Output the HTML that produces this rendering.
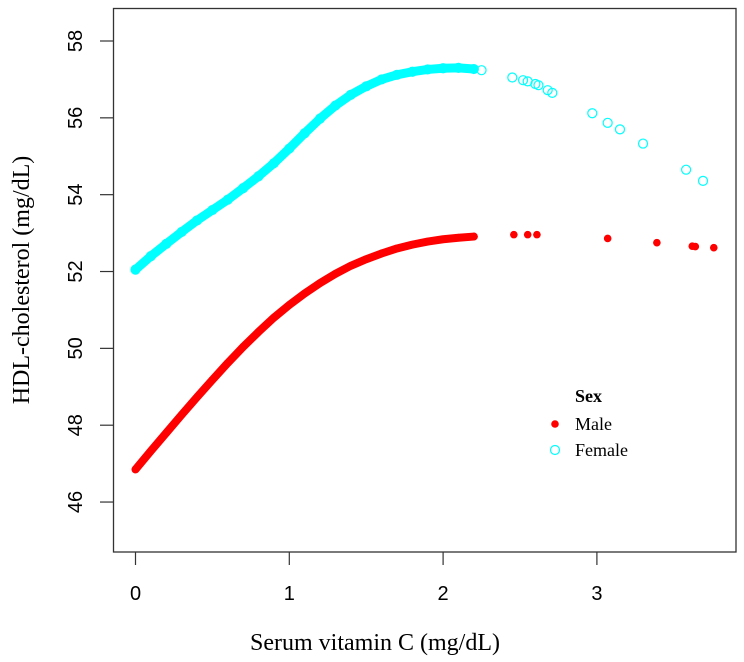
<!DOCTYPE html>
<html><head><meta charset="utf-8"><style>
html,body{margin:0;padding:0;background:#fff;}
svg{display:block;}
</style></head><body>
<svg id="chart" width="744" height="662" viewBox="0 0 744 662" xmlns="http://www.w3.org/2000/svg">
<rect x="0" y="0" width="744" height="662" fill="#fff"/>
<rect x="113.5" y="8.5" width="622.5" height="543.5" fill="none" stroke="#333" stroke-width="1.3"/>
<g id="xaxis"></g>
<g id="yaxis"></g>
<g id="female"></g>
<g id="male"></g>
<text x="375" y="650" text-anchor="middle" font-family="Liberation Serif, serif" font-size="24">Serum vitamin C (mg/dL)</text>
<text transform="translate(29,280) rotate(-90)" text-anchor="middle" font-family="Liberation Serif, serif" font-size="24">HDL-cholesterol (mg/dL)</text>
<g font-family="Liberation Serif, serif" font-size="18">
<text x="575" y="402" font-weight="bold">Sex</text>
<circle cx="555" cy="424" r="3.8" fill="#ff0000"/>
<text x="575" y="430">Male</text>
<circle cx="555" cy="450" r="4.5" fill="none" stroke="#00ffff" stroke-width="1.2"/>
<text x="575" y="456">Female</text>
</g>
</svg>
<script>
const xTicks = [0, 1, 2, 3];
const yTicks = [46, 48, 50, 52, 54, 56, 58];
const maleX = [0,0.1,0.2,0.3,0.4,0.5,0.6,0.7,0.8,0.9,1.0,1.1,1.2,1.3,1.4,1.5,1.6,1.7,1.8,1.9,2.0,2.1,2.2];
const maleY = [46.85,47.33,47.8,48.27,48.73,49.18,49.62,50.04,50.43,50.8,51.13,51.43,51.7,51.94,52.15,52.32,52.47,52.6,52.7,52.78,52.84,52.88,52.91];
const maleSparseX = [2.46,2.55,2.61,3.07,3.39,3.62,3.64,3.76];
const maleSparseY = [52.96,52.96,52.96,52.86,52.75,52.66,52.65,52.62];
const femaleX = [0,0.1,0.2,0.3,0.4,0.5,0.6,0.7,0.8,0.9,1.0,1.1,1.2,1.3,1.4,1.5,1.6,1.7,1.8,1.9,2.0,2.1,2.2];
const femaleY = [52.05,52.4,52.72,53.03,53.33,53.6,53.87,54.17,54.48,54.82,55.2,55.6,55.98,56.32,56.6,56.82,57.0,57.12,57.2,57.26,57.29,57.3,57.27];
const femaleSparseX = [2.25,2.45,2.52,2.55,2.6,2.62,2.68,2.71,2.97,3.07,3.15,3.3,3.58,3.69];
const femaleSparseY = [57.24,57.05,56.98,56.95,56.88,56.85,56.72,56.65,56.12,55.87,55.7,55.33,54.65,54.36];

const NS = "http://www.w3.org/2000/svg";
function sx(v){ return 135.5 + v*153.8; }
function sy(v){ return 41 + (58 - v)*38.42; }
function mk(tag, attrs, parent){
  const e = document.createElementNS(NS, tag);
  for (const k in attrs) e.setAttribute(k, attrs[k]);
  parent.appendChild(e);
  return e;
}
const xa = document.getElementById('xaxis');
xTicks.forEach(t => {
  const l = mk('line', {x1:sx(t), x2:sx(t), y1:552, y2:565, stroke:'#333', 'stroke-width':1.2}, xa);
  
  
  const tx = mk('text', {x:sx(t), y:600, 'text-anchor':'middle', 'font-family':'Liberation Sans, sans-serif', 'font-size':20}, xa);
  
  
  tx.textContent = t;
});
const ya = document.getElementById('yaxis');
yTicks.forEach(t => {
  const l = mk('line', {x1:100, x2:113, y1:sy(t), y2:sy(t), stroke:'#333', 'stroke-width':1.2}, ya);
  
  
  const tx = mk('text', {transform:'translate(82,'+sy(t)+') rotate(-90)', 'text-anchor':'middle', 'font-family':'Liberation Sans, sans-serif', 'font-size':20}, ya);
  
  
  tx.textContent = t;
});
const fg = document.getElementById('female');
const fpts = femaleX.map((x,i)=>sx(x)+','+sy(femaleY[i])).join(' ');
const fb = mk('polyline', {points:fpts, fill:'none', stroke:'#00ffff', 'stroke-width':9, 'stroke-linecap':'round', 'stroke-linejoin':'round'}, fg);


femaleX.concat(femaleSparseX).forEach((x,i)=>{
  const y = i < femaleX.length ? femaleY[i] : femaleSparseY[i-femaleX.length];
  const c = mk('circle', {cx:sx(x), cy:sy(y), r:4.5, fill:'none', stroke:'#00ffff', 'stroke-width':1.2}, fg);
  
  
});
const mg = document.getElementById('male');
const mpts = maleX.map((x,i)=>sx(x)+','+sy(maleY[i])).join(' ');
const mb = mk('polyline', {points:mpts, fill:'none', stroke:'#ff0000', 'stroke-width':8, 'stroke-linecap':'round', 'stroke-linejoin':'round'}, mg);


maleX.concat(maleSparseX).forEach((x,i)=>{
  const y = i < maleX.length ? maleY[i] : maleSparseY[i-maleX.length];
  const c = mk('circle', {cx:sx(x), cy:sy(y), r:3.8, fill:'#ff0000'}, mg);
  
  
});
</script>
</body></html>
